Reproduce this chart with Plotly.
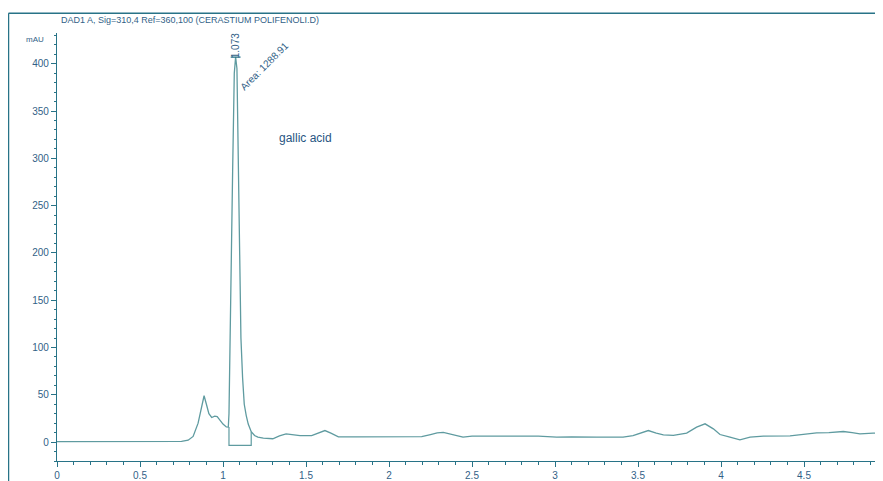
import plotly.graph_objects as go

# ---- data ----
time_min = [0, 0.2, 0.4, 0.6, 0.75, 0.79, 0.82, 0.85, 0.87, 0.886, 0.90, 0.915, 0.932, 0.95, 0.965,
            0.98, 1.0, 1.02, 1.032, 1.036, 1.042, 1.052, 1.058, 1.068, 1.076, 1.084, 1.092, 1.098,
            1.108, 1.118, 1.128, 1.14, 1.152, 1.17, 1.19, 1.21, 1.243, 1.30, 1.34, 1.38, 1.42, 1.464,
            1.534, 1.57, 1.614, 1.65, 1.695, 1.8, 2.0, 2.197, 2.25, 2.29, 2.327, 2.39, 2.446, 2.5,
            2.7, 2.9, 3.01, 3.1, 3.25, 3.41, 3.47, 3.52, 3.562, 3.61, 3.653, 3.713, 3.793, 3.853,
            3.904, 3.954, 3.994, 4.054, 4.114, 4.175, 4.255, 4.416, 4.516, 4.576, 4.65, 4.737, 4.79,
            4.837, 4.917, 4.976]
absorbance_mau = [0.5, 0.5, 0.5, 0.5, 0.8, 2, 6, 20, 38, 49, 40, 30, 26, 27.5, 27,
                  23, 19, 16, 15.8, 30, 110, 215, 286, 390, 407, 395, 286, 215,
                  110, 68, 40, 28, 19, 11, 7, 5.2, 4.2, 3.5, 6.5, 8.6, 7.8, 6.8,
                  6.8, 9, 12.2, 9.5, 5.5, 5.5, 5.5, 5.8, 8, 9.8, 10.2, 7.5, 5.2, 6.3,
                  6.3, 6.3, 5.2, 5.6, 5.2, 5.2, 6.8, 9.5, 12.2, 9.5, 7.7, 7, 9.5, 15.8,
                  19.3, 14, 8, 5.2, 2.4, 5.2, 6.3, 6.6, 8.7, 9.8, 10, 11.2, 10,
                  8.7, 9.5, 9.8]

# integration baseline of the main peak
baseline_t = [1.036, 1.036, 1.17, 1.17]
baseline_v = [16, -3.5, -3.5, 11]

peak_rt = 1.076
peak_height = 407
peak_label = "1.073"
area_label = "Area: 1288.91"
compound_label = "gallic acid"
title_text = "DAD1 A, Sig=310,4 Ref=360,100 (CERASTIUM POLIFENOLI.D)"

y_ticks = [0, 50, 100, 150, 200, 250, 300, 350, 400]
x_ticks = [0, 0.5, 1, 1.5, 2, 2.5, 3, 3.5, 4, 4.5]
x_tick_text = ["0", "0.5", "1", "1.5", "2", "2.5", "3", "3.5", "4", "4.5"]

# ---- styling ----
OFF = 8                     # page body margin offset
W, H = 883 - OFF, 481 - OFF
ML, MR, MT, MB = 57 - OFF, 0, 33 - OFF, 481 - 464
LINE = "rgb(95,155,160)"
AXIS = "rgb(40,115,135)"
TXT = "rgb(50,95,135)"
FONT = "Liberation Sans Narrow, Arial Narrow, Liberation Sans, Arial, sans-serif"

fig = go.Figure()
fig.add_trace(go.Scatter(x=time_min, y=absorbance_mau, mode="lines",
                         line=dict(color=LINE, width=1.3), hoverinfo="skip"))
fig.add_trace(go.Scatter(x=baseline_t, y=baseline_v, mode="lines",
                         line=dict(color=LINE, width=1.2), hoverinfo="skip"))
fig.add_trace(go.Scatter(x=[peak_rt], y=[peak_height], mode="markers",
                         marker=dict(symbol="line-ew", size=7, line=dict(color=AXIS, width=1.3)),
                         hoverinfo="skip"))

fig.add_annotation(x=peak_rt, y=peak_height, text=peak_label, textangle=-90,
                   showarrow=False, xanchor="center", yanchor="bottom", yshift=-3,
                   font=dict(family=FONT, size=10, color=TXT))
fig.add_annotation(x=1.247, y=397, text=area_label, textangle=-45, showarrow=False,
                   font=dict(family=FONT, size=10, color=TXT))
fig.add_annotation(x=1.494, y=322, text=compound_label, showarrow=False,
                   font=dict(family=FONT, size=12, color="rgb(40,85,130)"))

pw = W - ML - MR
ph = H - MT - MB
def px_to_paper_x(px):
    return (px - OFF - ML) / pw
def px_to_paper_y(py):
    return (H - MB - (py - OFF)) / ph

# title and unit labels
fig.add_annotation(xref="paper", yref="paper", x=px_to_paper_x(59), y=px_to_paper_y(20),
                   text=title_text, showarrow=False, xanchor="left", yanchor="middle",
                   font=dict(family=FONT, size=9, color=TXT))
fig.add_annotation(xref="paper", yref="paper", x=px_to_paper_x(46), y=px_to_paper_y(40),
                   text="mAU", showarrow=False, xanchor="right", yanchor="middle",
                   font=dict(family=FONT, size=8, color=TXT))
fig.add_annotation(xref="paper", yref="paper", x=px_to_paper_x(875), y=px_to_paper_y(476),
                   text="min", showarrow=False, xanchor="left", yanchor="middle",
                   font=dict(family=FONT, size=10, color=TXT))

# outer frame (left and top)
fig.add_shape(type="line", xref="paper", yref="paper",
              x0=px_to_paper_x(8.5), x1=px_to_paper_x(8.5),
              y0=px_to_paper_y(13), y1=px_to_paper_y(490),
              line=dict(color=AXIS, width=1.5))
fig.add_shape(type="line", xref="paper", yref="paper",
              x0=px_to_paper_x(8.5), x1=px_to_paper_x(890),
              y0=px_to_paper_y(13), y1=px_to_paper_y(13),
              line=dict(color=AXIS, width=1.5))

fig.update_layout(
    width=W, height=H, margin=dict(l=ML, r=MR, t=MT, b=MB),
    paper_bgcolor="white", plot_bgcolor="white", showlegend=False,
    font=dict(family=FONT, size=10, color=TXT),
    xaxis=dict(range=[0, (883 - 57) / 166.0], tickvals=x_ticks, ticktext=x_tick_text,
               showgrid=False, zeroline=False, showline=True, linecolor=AXIS, linewidth=1.3,
               ticks="outside", ticklen=5, tickcolor=AXIS, tickwidth=1,
               minor=dict(dtick=0.1, ticks="outside", ticklen=3, tickcolor=AXIS, showgrid=False),
               tickfont=dict(family=FONT, size=10, color=TXT)),
    yaxis=dict(range=[-20, 432.5], tickvals=y_ticks,
               showgrid=False, zeroline=False, showline=True, linecolor=AXIS, linewidth=1.3,
               ticks="outside", ticklen=5, tickcolor=AXIS, tickwidth=1,
               minor=dict(dtick=10, ticks="outside", ticklen=2, tickcolor=AXIS, showgrid=False),
               tickfont=dict(family=FONT, size=10, color=TXT)),
)

fig.write_html("out.html")
